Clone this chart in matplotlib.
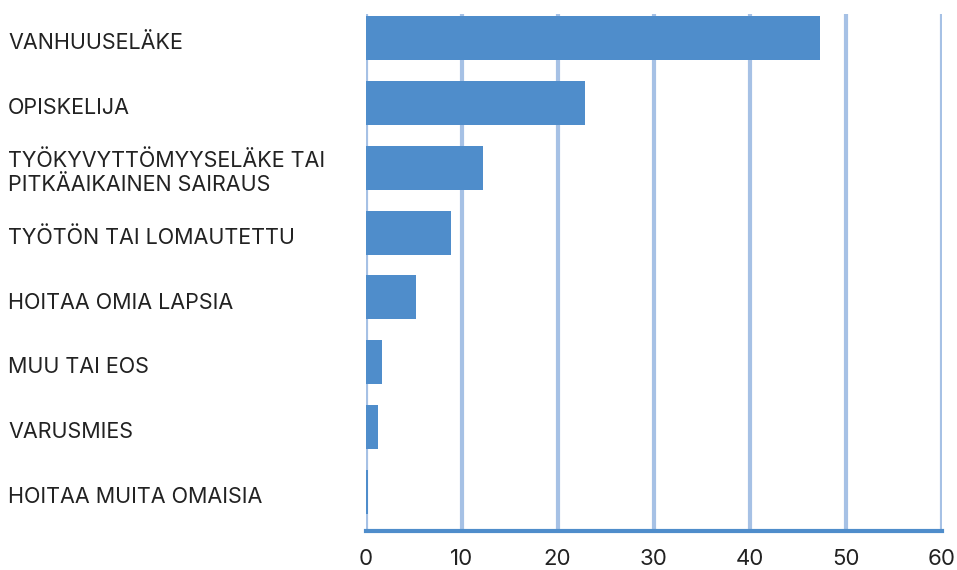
import matplotlib
matplotlib.use("Agg")
import matplotlib.pyplot as plt

categories = [
    "VANHUUSELÄKE",
    "OPISKELIJA",
    "TYÖKYVYTTÖMYYSELÄKE TAI\nPITKÄAIKAINEN SAIRAUS",
    "TYÖTÖN TAI LOMAUTETTU",
    "HOITAA OMIA LAPSIA",
    "MUU TAI EOS",
    "VARUSMIES",
    "HOITAA MUITA OMAISIA",
]
values = [47.3, 22.9, 12.2, 8.85, 5.3, 1.7, 1.25, 0.3]
xticks = [0, 10, 20, 30, 40, 50, 60]

bar_color = "#4f8dcb"
grid_color = "#a6c1e5"
text_color = "#222222"
font = "Inter"

fig = plt.figure(figsize=(9.57, 5.70), dpi=100)
ax = fig.add_axes([0.382, 0.069, 0.602, 0.906])

ypos = list(range(len(categories)))
ax.barh(ypos, values, height=0.68, color=bar_color, zorder=3)

ax.set_xlim(0, 60)
ax.set_ylim(7.6, -0.37)

for x in xticks:
    ax.axvline(x, color=grid_color, lw=3, zorder=1)

for s in ["top", "right", "left"]:
    ax.spines[s].set_visible(False)
ax.spines["bottom"].set_color(bar_color)
ax.spines["bottom"].set_linewidth(3)
ax.spines["bottom"].set_zorder(4)

ax.set_yticks([])
ax.set_xticks(xticks)
ax.set_xticklabels([str(x) for x in xticks], fontsize=16, color=text_color, family=font)
ax.tick_params(axis="x", length=0, pad=13)

for y, lab in zip(ypos, categories):
    ax.annotate(lab, xy=(8 / 957, y + 0.08), xycoords=("figure fraction", "data"),
                ha="left", va="center", fontsize=15.5, color=text_color,
                family=font, linespacing=1.25, annotation_clip=False)

fig.savefig("out.png", dpi=100)
